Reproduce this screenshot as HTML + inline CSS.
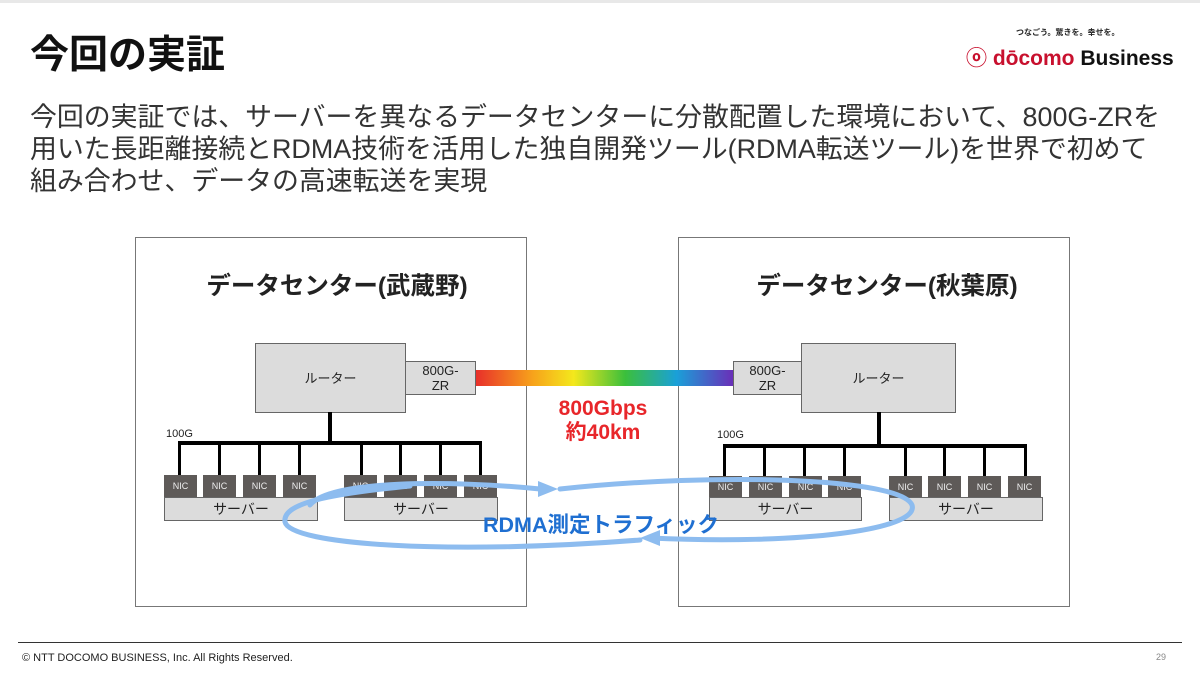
<!DOCTYPE html>
<html><head><meta charset="utf-8"><style>
body{margin:0;width:1200px;height:675px;background:#fff;position:relative;overflow:hidden;font-family:"Liberation Sans","Noto Sans CJK JP",sans-serif;color:#222}
.a{position:absolute}
.box{position:absolute;border:1px solid #777;background:#fff}
.g{position:absolute;background:#dcdcdc;border:1px solid #666;box-sizing:border-box;display:flex;align-items:center;justify-content:center;font-size:13px;text-align:center;line-height:15px}
.nic{position:absolute;background:#5e5a58;color:#eee;font-size:9px;display:flex;align-items:center;justify-content:center;width:33px;height:22px}
.k{position:absolute;background:#000}
</style></head><body>
<div class="a" style="left:0;top:0;width:1200px;height:3px;background:#e8e8e8"></div>
<div class="a" style="left:30px;top:24px;font-size:39px;font-weight:bold;color:#111">今回の実証</div>
<div class="a" style="left:1016px;top:27px;font-size:8px;font-weight:bold">つなごう。驚きを。幸せを。</div>
<div class="a" style="left:966px;top:42px;font-size:21px;font-weight:bold;white-space:nowrap"><span style="color:#c8102e">ⓞ dōcomo</span> <span style="color:#111">Business</span></div>
<div class="a" style="left:30px;top:101px;font-size:26.9px;line-height:32px;color:#333;width:1170px;white-space:nowrap">今回の実証では、サーバーを異なるデータセンターに分散配置した環境において、800G-ZRを<br>用いた長距離接続とRDMA技術を活用した独自開発ツール(RDMA転送ツール)を世界で初めて<br>組み合わせ、データの高速転送を実現</div>

<div class="box" style="left:135px;top:237px;width:390px;height:368px"></div>
<div class="box" style="left:678px;top:237px;width:390px;height:368px"></div>
<div class="a" style="left:142px;top:267px;width:390px;text-align:center;font-size:24.5px;font-weight:bold">データセンター(武蔵野)</div>
<div class="a" style="left:692px;top:267px;width:390px;text-align:center;font-size:24.5px;font-weight:bold">データセンター(秋葉原)</div>

<div class="g" style="left:255px;top:343px;width:151px;height:70px">ルーター</div>
<div class="g" style="left:405px;top:361px;width:71px;height:34px">800G-<br>ZR</div>
<div class="a" style="left:476px;top:370px;width:257px;height:16px;background:linear-gradient(90deg,#e8302a,#f7a21b 22%,#f4e81c 38%,#3bbf3b 58%,#1aa0d8 78%,#6a2fb8)"></div>
<div class="g" style="left:733px;top:361px;width:69px;height:34px">800G-<br>ZR</div>
<div class="g" style="left:801px;top:343px;width:155px;height:70px">ルーター</div>

<div class="a" style="left:543px;top:397px;width:120px;text-align:center;font-size:21px;font-weight:bold;color:#e8262a;line-height:24px">800Gbps<br>約40km</div>

<div class="a" style="left:166px;top:428px;font-size:11px">100G</div>
<div class="k" style="left:328px;top:412px;width:4px;height:32px"></div>
<div class="k" style="left:178px;top:441px;width:304px;height:4px"></div>
<div class="k" style="left:178px;top:441px;width:3px;height:34px"></div>
<div class="k" style="left:218px;top:441px;width:3px;height:34px"></div>
<div class="k" style="left:258px;top:441px;width:3px;height:34px"></div>
<div class="k" style="left:298px;top:441px;width:3px;height:34px"></div>
<div class="k" style="left:360px;top:441px;width:3px;height:34px"></div>
<div class="k" style="left:399px;top:441px;width:3px;height:34px"></div>
<div class="k" style="left:439px;top:441px;width:3px;height:34px"></div>
<div class="k" style="left:479px;top:441px;width:3px;height:34px"></div>
<div class="nic" style="left:164px;top:475px">NIC</div>
<div class="nic" style="left:203px;top:475px">NIC</div>
<div class="nic" style="left:243px;top:475px">NIC</div>
<div class="nic" style="left:283px;top:475px">NIC</div>
<div class="nic" style="left:344px;top:475px">NIC</div>
<div class="nic" style="left:384px;top:475px">NIC</div>
<div class="nic" style="left:424px;top:475px">NIC</div>
<div class="nic" style="left:464px;top:475px">NIC</div>
<div class="g" style="left:164px;top:497px;width:154px;height:24px;font-size:14px">サーバー</div>
<div class="g" style="left:344px;top:497px;width:154px;height:24px;font-size:14px">サーバー</div>

<div class="a" style="left:717px;top:429px;font-size:11px">100G</div>
<div class="k" style="left:877px;top:412px;width:4px;height:35px"></div>
<div class="k" style="left:723px;top:444px;width:304px;height:4px"></div>
<div class="k" style="left:723px;top:444px;width:3px;height:33px"></div>
<div class="k" style="left:763px;top:444px;width:3px;height:33px"></div>
<div class="k" style="left:803px;top:444px;width:3px;height:33px"></div>
<div class="k" style="left:843px;top:444px;width:3px;height:33px"></div>
<div class="k" style="left:904px;top:444px;width:3px;height:33px"></div>
<div class="k" style="left:943px;top:444px;width:3px;height:33px"></div>
<div class="k" style="left:983px;top:444px;width:3px;height:33px"></div>
<div class="k" style="left:1024px;top:444px;width:3px;height:33px"></div>
<div class="nic" style="left:709px;top:476px">NIC</div>
<div class="nic" style="left:749px;top:476px">NIC</div>
<div class="nic" style="left:789px;top:476px">NIC</div>
<div class="nic" style="left:828px;top:476px">NIC</div>
<div class="nic" style="left:889px;top:476px">NIC</div>
<div class="nic" style="left:928px;top:476px">NIC</div>
<div class="nic" style="left:968px;top:476px">NIC</div>
<div class="nic" style="left:1008px;top:476px">NIC</div>
<div class="g" style="left:709px;top:497px;width:153px;height:24px;font-size:14px">サーバー</div>
<div class="g" style="left:889px;top:497px;width:154px;height:24px;font-size:14px">サーバー</div>

<svg class="a" style="left:0;top:0" width="1200" height="675">
<g fill="none" stroke="#8dbcef" stroke-width="5" stroke-linecap="round">
<path d="M310,505 C330,480 450,480 540,489"/>
<path d="M560,489 C720,472 900,478 912,505 C920,530 800,545 650,538"/>
<path d="M640,540 C450,555 290,545 285,522 C282,503 330,494 410,486"/>
</g>
<polygon points="538,481 558,489 538,497" fill="#8dbcef"/>
<polygon points="660,530 640,538 660,546" fill="#8dbcef"/>
</svg>
<div class="a" style="left:483px;top:508px;font-size:21.5px;font-weight:bold;color:#1f6fd1;white-space:nowrap">RDMA測定トラフィック</div>

<div class="a" style="left:18px;top:642px;width:1164px;height:1px;background:#333"></div>
<div class="a" style="left:22px;top:652px;font-size:11px;color:#222">© NTT DOCOMO BUSINESS, Inc. All Rights Reserved.</div>
<div class="a" style="left:1156px;top:652px;font-size:9px;color:#888">29</div>
</body></html>
